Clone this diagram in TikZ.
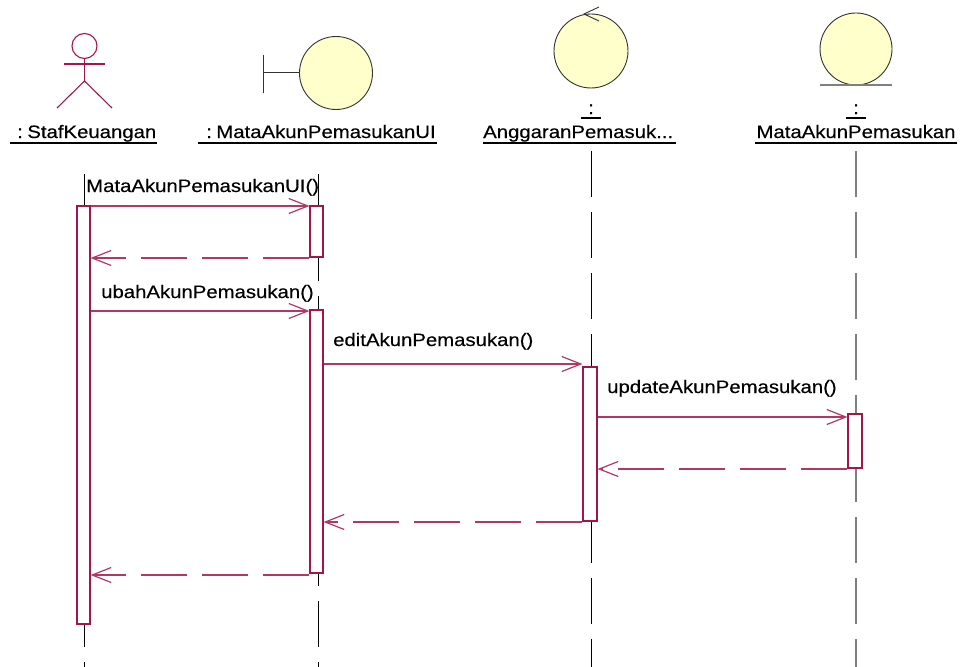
\documentclass[tikz,border=0pt]{standalone}
\usepackage{fontspec}
\setmainfont{Liberation Sans}[FakeStretch=1.13, FakeBold=0.3]
\usetikzlibrary{arrows.meta}
\definecolor{rosered}{RGB}{165,20,75}
\definecolor{objfill}{RGB}{255,255,204}
\definecolor{objline}{RGB}{50,50,50}
\definecolor{lifegrey}{RGB}{128,128,128}
\begin{document}
\begin{tikzpicture}[x=1pt,y=-1pt,
  lbl/.style={font=\fontsize{18pt}{21pt}\selectfont, inner sep=0pt, anchor=base west, text=black},
  ulin/.style={draw=black, line width=1.3pt},
  obj/.style={draw=objline, fill=objfill, line width=0.9pt},
  actorline/.style={draw=rosered, line width=1.1pt},
  life/.style={draw=black, line width=1pt, dash pattern=on 46pt off 15pt},
  act/.style={draw=rosered, fill=white, line width=1.1pt, minimum width=13pt, inner sep=0pt},
  msg/.style={draw=rosered!85, line width=1.1pt, -{Straight Barb[length=19pt,width=15pt,line width=1.2pt]}},
  ret/.style={msg, dash pattern=on 46pt off 15pt}
]
\useasboundingbox (0,0) rectangle (968,666);

% ---------- header icons ----------
% actor
\draw[actorline] (84.5,46) circle (12.5);
\draw[actorline] (64,64) -- (105,64);
\draw[actorline] (84.5,58.5) -- (84.5,81);
\draw[actorline] (57,108) -- (84.5,81) -- (112,108);
% boundary
\draw[objline, line width=1pt] (263,55) -- (263,93);
\draw[objline, line width=1pt] (263,73) -- (300,73);
\draw[obj] (336,73) circle (36.5);
% control
\draw[obj] (591,51) circle (37);
\draw[objline, line width=0.9pt] (599,7) -- (584,14) -- (599,21);
% entity
\draw[obj] (856,49) circle (36);
\draw[lifegrey, line width=1.2pt] (820,85) -- (892,85);

% ---------- header labels ----------
\node[lbl] (nA) at (17,138) {:\hspace{4.5pt}StafKeuangan};
\draw[ulin] (10,143) -- (157,143);
\node[lbl] (nU) at (206,138) {:\hspace{4.5pt}MataAkunPemasukanUI};
\draw[ulin] (198,143) -- (437,143);
\node[lbl, anchor=base] (nCc) at (591,114) {:};
\draw[ulin] (581,118) -- (601,118);
\node[lbl] (nC) at (483,138) {AnggaranPemasuk...};
\draw[ulin] (483,143) -- (676,143);
\node[lbl, anchor=base] (nEc) at (856,114) {:};
\draw[ulin] (846,118) -- (866,118);
\node[lbl, anchor=base] (nE) at (856,138) {MataAkunPemasukan};
\draw[ulin] (755,143) -- (957,143);

% ---------- lifelines ----------
\coordinate (tA) at (84,174);  \coordinate (bA) at (84,670);
\coordinate (tU) at (318,174); \coordinate (bU) at (318,670);
\coordinate (tC) at (591,151); \coordinate (bC) at (591,670);
\coordinate (tE) at (856,151); \coordinate (bE) at (856,670);
\draw[life] (tA) -- (bA);
\draw[life] (tU) -- (bU);
\draw[life] (tC) -- (bC);
\draw[life, draw=lifegrey, line width=1.3pt] (tE) -- (bE);

% ---------- activations ----------
\node[act, minimum height=418pt] (aA) at (83.5,415) {};
\node[act, minimum height=51pt] (aU1) at (316.5,231.5) {};
\node[act, minimum height=263pt] (aU2) at (316.5,441.5) {};
\node[act, minimum width=14pt, minimum height=154pt] (aC) at (590,444) {};
\node[act, minimum width=14pt, minimum height=54pt] (aE) at (855,441) {};

% ---------- messages ----------
\draw[msg] (aA.east |- 0,206) -- (aU1.west |- 0,206);
\node[lbl] (l1) at (86,192) {MataAkunPemasukanUI()};
\draw[ret] (aU1.west |- 0,258) -- (aA.east |- 0,258);
\draw[msg] (aA.east |- 0,311) -- (aU2.west |- 0,311);
\node[lbl] (l2) at (101,298) {ubahAkunPemasukan()};
\draw[msg] (aU2.east |- 0,364) -- (aC.west |- 0,364);
\node[lbl] (l3) at (333,346) {editAkunPemasukan()};
\draw[msg] (aC.east |- 0,417) -- (aE.west |- 0,417);
\node[lbl] (l4) at (607,393) {updateAkunPemasukan()};
\draw[ret] (aE.west |- 0,469) -- (aC.east |- 0,469);
\draw[ret] (aC.west |- 0,522) -- (aU2.east |- 0,522);
\draw[ret] (aU2.west |- 0,575) -- (aA.east |- 0,575);
\end{tikzpicture}
\end{document}
